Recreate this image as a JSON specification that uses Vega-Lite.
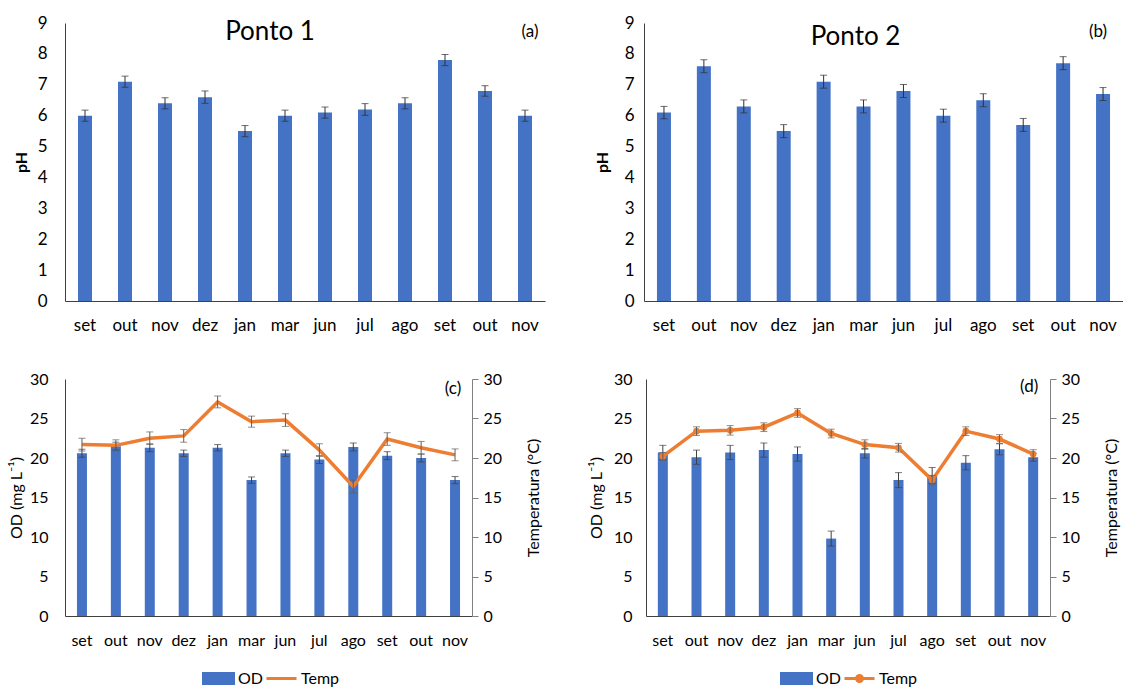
{
  "$schema": "https://vega.github.io/schema/vega-lite/v6.json",
  "padding": {"left": 8, "top": 14, "right": 0, "bottom": 0},
  "background": "white",
  "config": {
    "font": "Lato",
    "view": {"stroke": null},
    "axis": {"grid": false, "labelFont": "Lato", "labelFontSize": 17, "labelColor": "#000", "titleFont": "Lato", "titleFontSize": 16, "titleColor": "#000", "titleFontWeight": "normal", "domainColor": "#404040", "ticks": false, "labelOverlap": false},
    "axisX": {"labelAngle": 0, "title": null},
    "text": {"fontWeight": "normal"}
  },
  "datasets": {
    "ph1": [
      {"k": "set|1", "v": 6.0, "e": 0.18}, {"k": "out|1", "v": 7.1, "e": 0.18}, {"k": "nov|1", "v": 6.4, "e": 0.18},
      {"k": "dez|1", "v": 6.6, "e": 0.2}, {"k": "jan|1", "v": 5.5, "e": 0.18}, {"k": "mar|1", "v": 6.0, "e": 0.18},
      {"k": "jun|1", "v": 6.1, "e": 0.18}, {"k": "jul|1", "v": 6.2, "e": 0.19}, {"k": "ago|1", "v": 6.4, "e": 0.18},
      {"k": "set|2", "v": 7.8, "e": 0.18}, {"k": "out|2", "v": 6.8, "e": 0.17}, {"k": "nov|2", "v": 6.0, "e": 0.18}
    ],
    "ph2": [
      {"k": "set|1", "v": 6.1, "e": 0.2}, {"k": "out|1", "v": 7.6, "e": 0.21}, {"k": "nov|1", "v": 6.3, "e": 0.21},
      {"k": "dez|1", "v": 5.5, "e": 0.21}, {"k": "jan|1", "v": 7.1, "e": 0.21}, {"k": "mar|1", "v": 6.3, "e": 0.21},
      {"k": "jun|1", "v": 6.8, "e": 0.21}, {"k": "jul|1", "v": 6.0, "e": 0.21}, {"k": "ago|1", "v": 6.5, "e": 0.21},
      {"k": "set|2", "v": 5.7, "e": 0.21}, {"k": "out|2", "v": 7.7, "e": 0.21}, {"k": "nov|2", "v": 6.7, "e": 0.21}
    ],
    "od1": [
      {"k": "set|1", "od": 20.6, "ode": 0.5, "t": 21.7, "te": 0.8},
      {"k": "out|1", "od": 21.5, "ode": 0.5, "t": 21.6, "te": 0.7},
      {"k": "nov|1", "od": 21.3, "ode": 0.5, "t": 22.5, "te": 0.8},
      {"k": "dez|1", "od": 20.6, "ode": 0.4, "t": 22.8, "te": 0.8},
      {"k": "jan|1", "od": 21.3, "ode": 0.4, "t": 27.1, "te": 0.75},
      {"k": "mar|1", "od": 17.2, "ode": 0.4, "t": 24.6, "te": 0.7},
      {"k": "jun|1", "od": 20.6, "ode": 0.4, "t": 24.8, "te": 0.8},
      {"k": "jul|1", "od": 19.8, "ode": 0.5, "t": 21.0, "te": 0.8},
      {"k": "ago|1", "od": 21.4, "ode": 0.5, "t": 16.4, "te": 0.8},
      {"k": "set|2", "od": 20.3, "ode": 0.5, "t": 22.4, "te": 0.8},
      {"k": "out|2", "od": 20.0, "ode": 0.5, "t": 21.3, "te": 0.8},
      {"k": "nov|2", "od": 17.2, "ode": 0.45, "t": 20.4, "te": 0.75}
    ],
    "od2": [
      {"k": "set|1", "od": 20.7, "ode": 0.9, "t": 20.2, "te": 0.5},
      {"k": "out|1", "od": 20.1, "ode": 0.9, "t": 23.4, "te": 0.55},
      {"k": "nov|1", "od": 20.7, "ode": 0.9, "t": 23.5, "te": 0.6},
      {"k": "dez|1", "od": 21.0, "ode": 0.9, "t": 23.9, "te": 0.55},
      {"k": "jan|1", "od": 20.5, "ode": 0.9, "t": 25.7, "te": 0.55},
      {"k": "mar|1", "od": 9.8, "ode": 0.95, "t": 23.1, "te": 0.55},
      {"k": "jun|1", "od": 20.6, "ode": 0.6, "t": 21.7, "te": 0.6},
      {"k": "jul|1", "od": 17.2, "ode": 0.95, "t": 21.3, "te": 0.55},
      {"k": "ago|1", "od": 17.8, "ode": 1.0, "t": 17.2, "te": 0.6},
      {"k": "set|2", "od": 19.4, "ode": 0.9, "t": 23.4, "te": 0.55},
      {"k": "out|2", "od": 21.1, "ode": 0.7, "t": 22.4, "te": 0.55},
      {"k": "nov|2", "od": 20.1, "ode": 0.5, "t": 20.5, "te": 0.55}
    ]
  },
  "spacing": 38,
  "vconcat": [
    {
      "spacing": 49,
      "hconcat": [
        {
          "width": 480, "height": 278,
          "data": {"name": "ph1"},
          "encoding": {
            "x": {"field": "k", "type": "ordinal", "sort": null, "axis": {"labelExpr": "split(datum.label, '|')[0]", "labelPadding": 16}},
            "y": {"field": "v", "type": "quantitative", "scale": {"domain": [0, 9]}, "axis": {"title": "pH", "titleFontWeight": "bold", "values": [0,1,2,3,4,5,6,7,8,9], "labelPadding": 18, "titlePadding": 8}}
          },
          "layer": [
            {"mark": {"type": "bar", "color": "#4472C4", "size": 14}},
            {"mark": {"type": "errorbar", "ticks": {"size": 7}, "color": "#303030", "thickness": 1},
             "encoding": {"yError": {"field": "e"}}},
            {"transform": [{"filter": "datum.k === 'mar|1'"}],
             "mark": {"type": "text", "fontSize": 26, "fontWeight": "normal", "font": "Lato", "dx": -15, "baseline": "middle", "color": "#000"},
             "encoding": {"y": {"datum": 8.7}, "text": {"value": "Ponto 1"}}},
            {"transform": [{"filter": "datum.k === 'nov|2'"}],
             "mark": {"type": "text", "fontSize": 17, "fontWeight": "normal", "font": "Lato", "dx": 5, "baseline": "middle", "color": "#000"},
             "encoding": {"y": {"datum": 8.7}, "text": {"value": "(a)"}}}
          ]
        },
        {
          "width": 479, "height": 278,
          "data": {"name": "ph2"},
          "encoding": {
            "x": {"field": "k", "type": "ordinal", "sort": null, "axis": {"labelExpr": "split(datum.label, '|')[0]", "labelPadding": 16}},
            "y": {"field": "v", "type": "quantitative", "scale": {"domain": [0, 9]}, "axis": {"title": "pH", "titleFontWeight": "bold", "values": [0,1,2,3,4,5,6,7,8,9], "labelPadding": 10, "titlePadding": 14}}
          },
          "layer": [
            {"mark": {"type": "bar", "color": "#4472C4", "size": 14}},
            {"mark": {"type": "errorbar", "ticks": {"size": 7}, "color": "#303030", "thickness": 1},
             "encoding": {"yError": {"field": "e"}}},
            {"transform": [{"filter": "datum.k === 'mar|1'"}],
             "mark": {"type": "text", "fontSize": 26, "fontWeight": "normal", "font": "Lato", "dx": -8, "baseline": "middle", "color": "#000"},
             "encoding": {"y": {"datum": 8.55}, "text": {"value": "Ponto 2"}}},
            {"transform": [{"filter": "datum.k === 'nov|2'"}],
             "mark": {"type": "text", "fontSize": 17, "fontWeight": "normal", "font": "Lato", "dx": -5, "baseline": "middle", "color": "#000"},
             "encoding": {"y": {"datum": 8.7}, "text": {"value": "(b)"}}}
          ]
        }
      ]
    },
    {
      "spacing": 46,
      "resolve": {"scale": {"color": "independent"}, "legend": {"color": "independent"}},
      "hconcat": [
        {
          "width": 407, "height": 237,
          "data": {"name": "od1"},
          "encoding": {"x": {"field": "k", "type": "ordinal", "sort": null, "axis": {"labelExpr": "split(datum.label, '|')[0]", "labelPadding": 16, "labelFontSize": 16}}},
          "layer": [
            {
              "encoding": {"y": {"field": "od", "type": "quantitative", "scale": {"domain": [0, 30]}, "axis": {"title": "OD (mg L⁻¹)", "values": [0,5,10,15,20,25,30], "labelFontSize": 16, "labelPadding": 17, "titlePadding": 5}}},
              "layer": [
                {"mark": {"type": "bar", "size": 10},
                 "encoding": {
                   "color": {"datum": "OD", "type": "nominal", "scale": {"domain": ["OD", "Temp"], "range": ["#4472C4", "#ED7D31"]},
                     "legend": {"orient": "none", "legendX": 137, "legendY": 283, "direction": "horizontal", "gridAlign": "none", "title": null, "labelFont": "Lato", "labelFontSize": 16, "labelColor": "#000", "symbolSize": 900, "labelOffset": 3, "columnPadding": -3,
                       "encode": {"symbols": {"update": {
                         "shape": {"signal": "datum.value === 'OD' ? 'M-1,-0.33H1V0.33H-1Z' : 'M-1,0H1'"},
                         "fill": {"signal": "datum.value === 'OD' ? '#4472C4' : 'transparent'"},
                         "stroke": {"signal": "datum.value === 'OD' ? 'transparent' : '#ED7D31'"},
                         "strokeWidth": {"value": 3}}}}}}
                 }},
                {"mark": {"type": "errorbar", "ticks": {"size": 7}, "color": "#404040", "thickness": 1},
                 "encoding": {"yError": {"field": "ode"}}},
                {"transform": [{"filter": "datum.k === 'nov|2'"}],
                 "mark": {"type": "text", "fontSize": 17, "fontWeight": "normal", "font": "Lato", "dx": -2, "baseline": "middle", "color": "#000"},
                 "encoding": {"y": {"datum": 28.7}, "text": {"value": "(c)"}}}
              ]
            },
            {
              "encoding": {"y": {"field": "t", "type": "quantitative", "scale": {"domain": [0, 30]}, "axis": {"orient": "right", "title": "Temperatura (°C)", "titleAngle": 270, "titleBaseline": "top", "values": [0,5,10,15,20,25,30], "labelFontSize": 16, "ticks": true, "tickSize": 6, "tickColor": "#808080", "domainColor": "#808080", "labelPadding": 5, "titlePadding": 24}}},
              "layer": [
                {"mark": {"type": "line", "strokeWidth": 3.5},
                 "encoding": {"color": {"datum": "Temp", "type": "nominal"}}},
                {"mark": {"type": "errorbar", "ticks": {"size": 7}, "color": "#606060", "thickness": 1},
                 "encoding": {"yError": {"field": "te"}}}
              ]
            }
          ],
          "resolve": {"scale": {"y": "independent"}}
        },
        {
          "width": 404, "height": 237,
          "data": {"name": "od2"},
          "encoding": {"x": {"field": "k", "type": "ordinal", "sort": null, "axis": {"labelExpr": "split(datum.label, '|')[0]", "labelPadding": 16, "labelFontSize": 16}}},
          "layer": [
            {
              "encoding": {"y": {"field": "od", "type": "quantitative", "scale": {"domain": [0, 30]}, "axis": {"title": "OD (mg L⁻¹)", "values": [0,5,10,15,20,25,30], "labelFontSize": 16, "labelPadding": 14, "titlePadding": 9}}},
              "layer": [
                {"mark": {"type": "bar", "size": 10},
                 "encoding": {
                   "color": {"datum": "OD", "type": "nominal", "scale": {"domain": ["OD", "Temp"], "range": ["#4472C4", "#ED7D31"]},
                     "legend": {"orient": "none", "legendX": 134, "legendY": 283, "direction": "horizontal", "gridAlign": "none", "title": null, "labelFont": "Lato", "labelFontSize": 16, "labelColor": "#000", "symbolSize": 900, "labelOffset": 3, "columnPadding": -3,
                       "encode": {"symbols": {"update": {
                         "shape": {"signal": "datum.value === 'OD' ? 'M-1,-0.33H1V0.33H-1Z' : 'M-1,0H1M0.2,0A0.2,0.2,0,1,1,-0.2,0A0.2,0.2,0,1,1,0.2,0'"},
                         "fill": {"signal": "datum.value === 'OD' ? '#4472C4' : '#ED7D31'"},
                         "stroke": {"signal": "datum.value === 'OD' ? 'transparent' : '#ED7D31'"},
                         "strokeWidth": {"value": 3}}}}}}
                 }},
                {"mark": {"type": "errorbar", "ticks": {"size": 7}, "color": "#404040", "thickness": 1},
                 "encoding": {"yError": {"field": "ode"}}},
                {"transform": [{"filter": "datum.k === 'nov|2'"}],
                 "mark": {"type": "text", "fontSize": 17, "fontWeight": "normal", "font": "Lato", "dx": -4, "baseline": "middle", "color": "#000"},
                 "encoding": {"y": {"datum": 29}, "text": {"value": "(d)"}}}
              ]
            },
            {
              "encoding": {"y": {"field": "t", "type": "quantitative", "scale": {"domain": [0, 30]}, "axis": {"orient": "right", "title": "Temperatura (°C)", "titleAngle": 270, "titleBaseline": "top", "values": [0,5,10,15,20,25,30], "labelFontSize": 16, "ticks": true, "tickSize": 6, "tickColor": "#808080", "domainColor": "#808080", "labelPadding": 5, "titlePadding": 24}}},
              "layer": [
                {"mark": {"type": "line", "strokeWidth": 3.5, "point": {"filled": true, "size": 45, "color": "#ED7D31"}},
                 "encoding": {"color": {"datum": "Temp", "type": "nominal"}}},
                {"mark": {"type": "errorbar", "ticks": {"size": 7}, "color": "#606060", "thickness": 1},
                 "encoding": {"yError": {"field": "te"}}}
              ]
            }
          ],
          "resolve": {"scale": {"y": "independent"}}
        }
      ]
    }
  ]
}
